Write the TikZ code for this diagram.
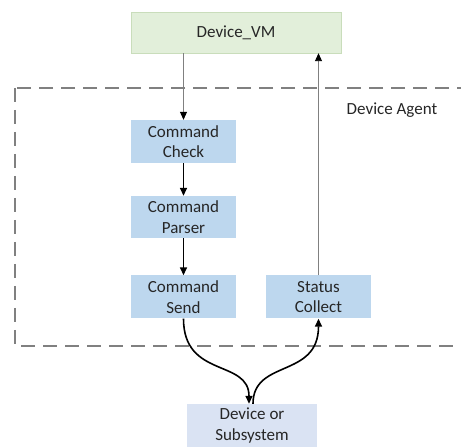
\documentclass[tikz,border=0pt]{standalone}
\usepackage{fontspec}
\setmainfont{Carlito}
\usetikzlibrary{arrows.meta}
\definecolor{vmgreen}{HTML}{E2EFDA}
\definecolor{vmline}{HTML}{C9DDBB}
\definecolor{cmdblue}{HTML}{BDD7EE}
\definecolor{devblue}{HTML}{DAE3F3}
\tikzset{
	box/.style={
	  inner sep=0pt, align=center, text=black!85,
	    font=\fontsize{17}{20.5}\selectfont},
	cmdbox/.style={box, fill=cmdblue, minimum width=105pt, minimum
    height=43pt},
	link/.style={draw=black!50, line width=0.9pt, -{Triangle[length=8pt,width=7pt,color=black]}},
	flow/.style={draw=black, line width=1.6pt, -{Triangle[length=8pt,width=7pt]}}
}

\begin{document}
\begin{tikzpicture}[x=1pt, y=1pt]
	\useasboundingbox (0,0) rectangle (461,447);
	% agent frame
	\draw[black!50, line width=1.8pt, dash pattern=on 14pt off 8pt] (15,359) rectangle (480,101);
	\node[box] (agent) at (392,337) {Device Agent};
	% boxes
	\node[box, fill=vmgreen, draw=vmline, minimum width=210pt, minimum height=41pt] (vm) at (236,414.5) {Device\_VM};
	\node[cmdbox] (check) at (183.5,305.5) {Command\\Check};
	\node[cmdbox, minimum height=42pt] (parser) at (183.5,230) {Command\\Parser};
	\node[cmdbox] (send) at (183.5,150) {Command\\Send};
	\node[cmdbox] (collect) at (318.5,150) {Status\\Collect};
	\node[box, fill=devblue, minimum width=130pt, minimum height=43pt] (dev) at (252,21.5) {Device or\\Subsystem};
	% connectors
	\draw[link] (vm.south -| check.north) -- (check.north);
	\draw[link] (collect.north) -- (collect.north |- vm.south);
	\draw[flow] (check) -- (parser);
	\draw[flow] (parser) -- (send);
	\draw[flow] (send.south) .. controls +(0,-60) and +(0,45) .. ([xshift=-3pt]dev.north);
	\draw[flow] ([xshift=1pt]dev.north) .. controls +(0,45) and +(0,-60) .. (collect.south);
\end{tikzpicture}
\end{document}
